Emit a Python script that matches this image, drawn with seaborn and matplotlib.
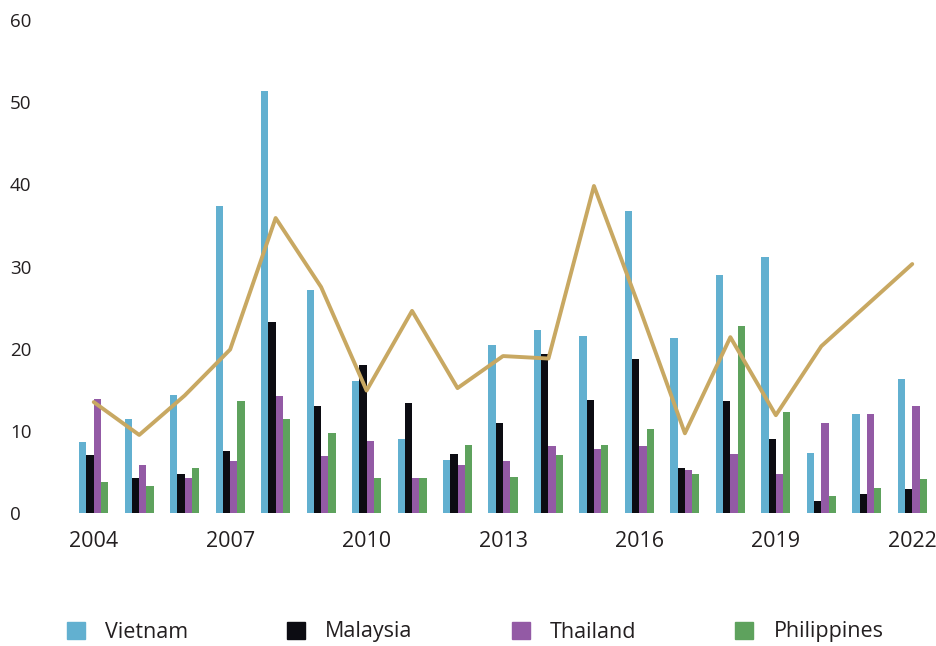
import numpy as np
import pandas as pd
import matplotlib
matplotlib.use("Agg")
from matplotlib import pyplot as plt
import seaborn as sns

years = list(range(2004, 2023))
vietnam = [8.6, 11.5, 14.4, 37.4, 51.3, 27.2, 16.1, 9.0, 6.5, 20.5, 22.3, 21.6, 36.7, 21.3, 29.0, 31.1, 7.3, 12.0, 16.3]
malaysia = [7.0, 4.2, 4.7, 7.6, 23.3, 13.0, 18.0, 13.4, 7.2, 11.0, 19.3, 13.8, 18.8, 5.5, 13.6, 9.0, 1.5, 2.3, 2.9]
thailand = [13.9, 5.8, 4.3, 6.3, 14.3, 6.9, 8.8, 4.3, 5.9, 6.3, 8.1, 7.8, 8.2, 5.2, 7.2, 4.7, 10.9, 12.0, 13.0]
philippines = [3.8, 3.3, 5.5, 13.6, 11.5, 9.7, 4.3, 4.3, 8.3, 4.4, 7.0, 8.3, 10.2, 4.7, 22.8, 12.3, 2.1, 3.1, 4.1]
total_line = [13.5, 9.5, 14.3, 19.9, 35.9, 27.5, 14.9, 24.6, 15.2, 19.1, 18.8, 39.8, 25.0, 9.7, 21.4, 11.9, 20.3, 25.3, 30.3]

countries = ["Vietnam", "Malaysia", "Thailand", "Philippines"]
colors = ["#62b0d0", "#0c0c12", "#935aa5", "#5ea25d"]
line_color = "#c8a862"
text_color = "#231f20"

df = pd.DataFrame({
    "year": [str(y) for y in years] * 4,
    "country": np.repeat(countries, len(years)),
    "value": vietnam + malaysia + thailand + philippines,
})

sns.set_theme(style="white")
plt.rcParams["font.family"] = ["Open Sans", "DejaVu Sans"]

fig = plt.figure(figsize=(9.36, 6.46), dpi=100)
ax = fig.add_axes([71 / 936, 133 / 646, 864 / 936, 493 / 646])

sns.barplot(data=df, x="year", y="value", hue="country", palette=colors,
            hue_order=countries, width=0.64, gap=0, saturation=1,
            edgecolor="none", linewidth=0, ax=ax)
sns.lineplot(x=np.arange(len(years)), y=total_line, color=line_color,
             linewidth=2.8, ax=ax, legend=False)

ax.set_xlim(-0.5, len(years) - 0.5)
ax.set_ylim(0, 60)
ax.set_yticks(range(0, 61, 10))
tick_pos = list(range(0, len(years), 3))
ax.set_xticks(tick_pos)
ax.set_xticklabels([str(years[i]) for i in tick_pos])
ax.set_xlabel("")
ax.set_ylabel("")
for s in ax.spines.values():
    s.set_visible(False)
ax.tick_params(axis="x", length=0, pad=13, labelsize=15.5, colors=text_color)
ax.tick_params(axis="y", length=0, pad=44, labelsize=13.5, colors=text_color)
for lab in ax.get_yticklabels():
    lab.set_horizontalalignment("left")

ax.get_legend().remove()
handles = [plt.Rectangle((0, 0), 1, 1, color=c) for c in colors]
fig.legend(handles, countries, loc="center left", bbox_to_anchor=(67 / 936, 14 / 646),
           ncol=4, frameon=False, fontsize=15.5, handlelength=0.84, handleheight=0.84,
           handletextpad=0.93, columnspacing=4.6, borderpad=0, borderaxespad=0,
           labelcolor=text_color)

fig.savefig("out.png", dpi=100)
